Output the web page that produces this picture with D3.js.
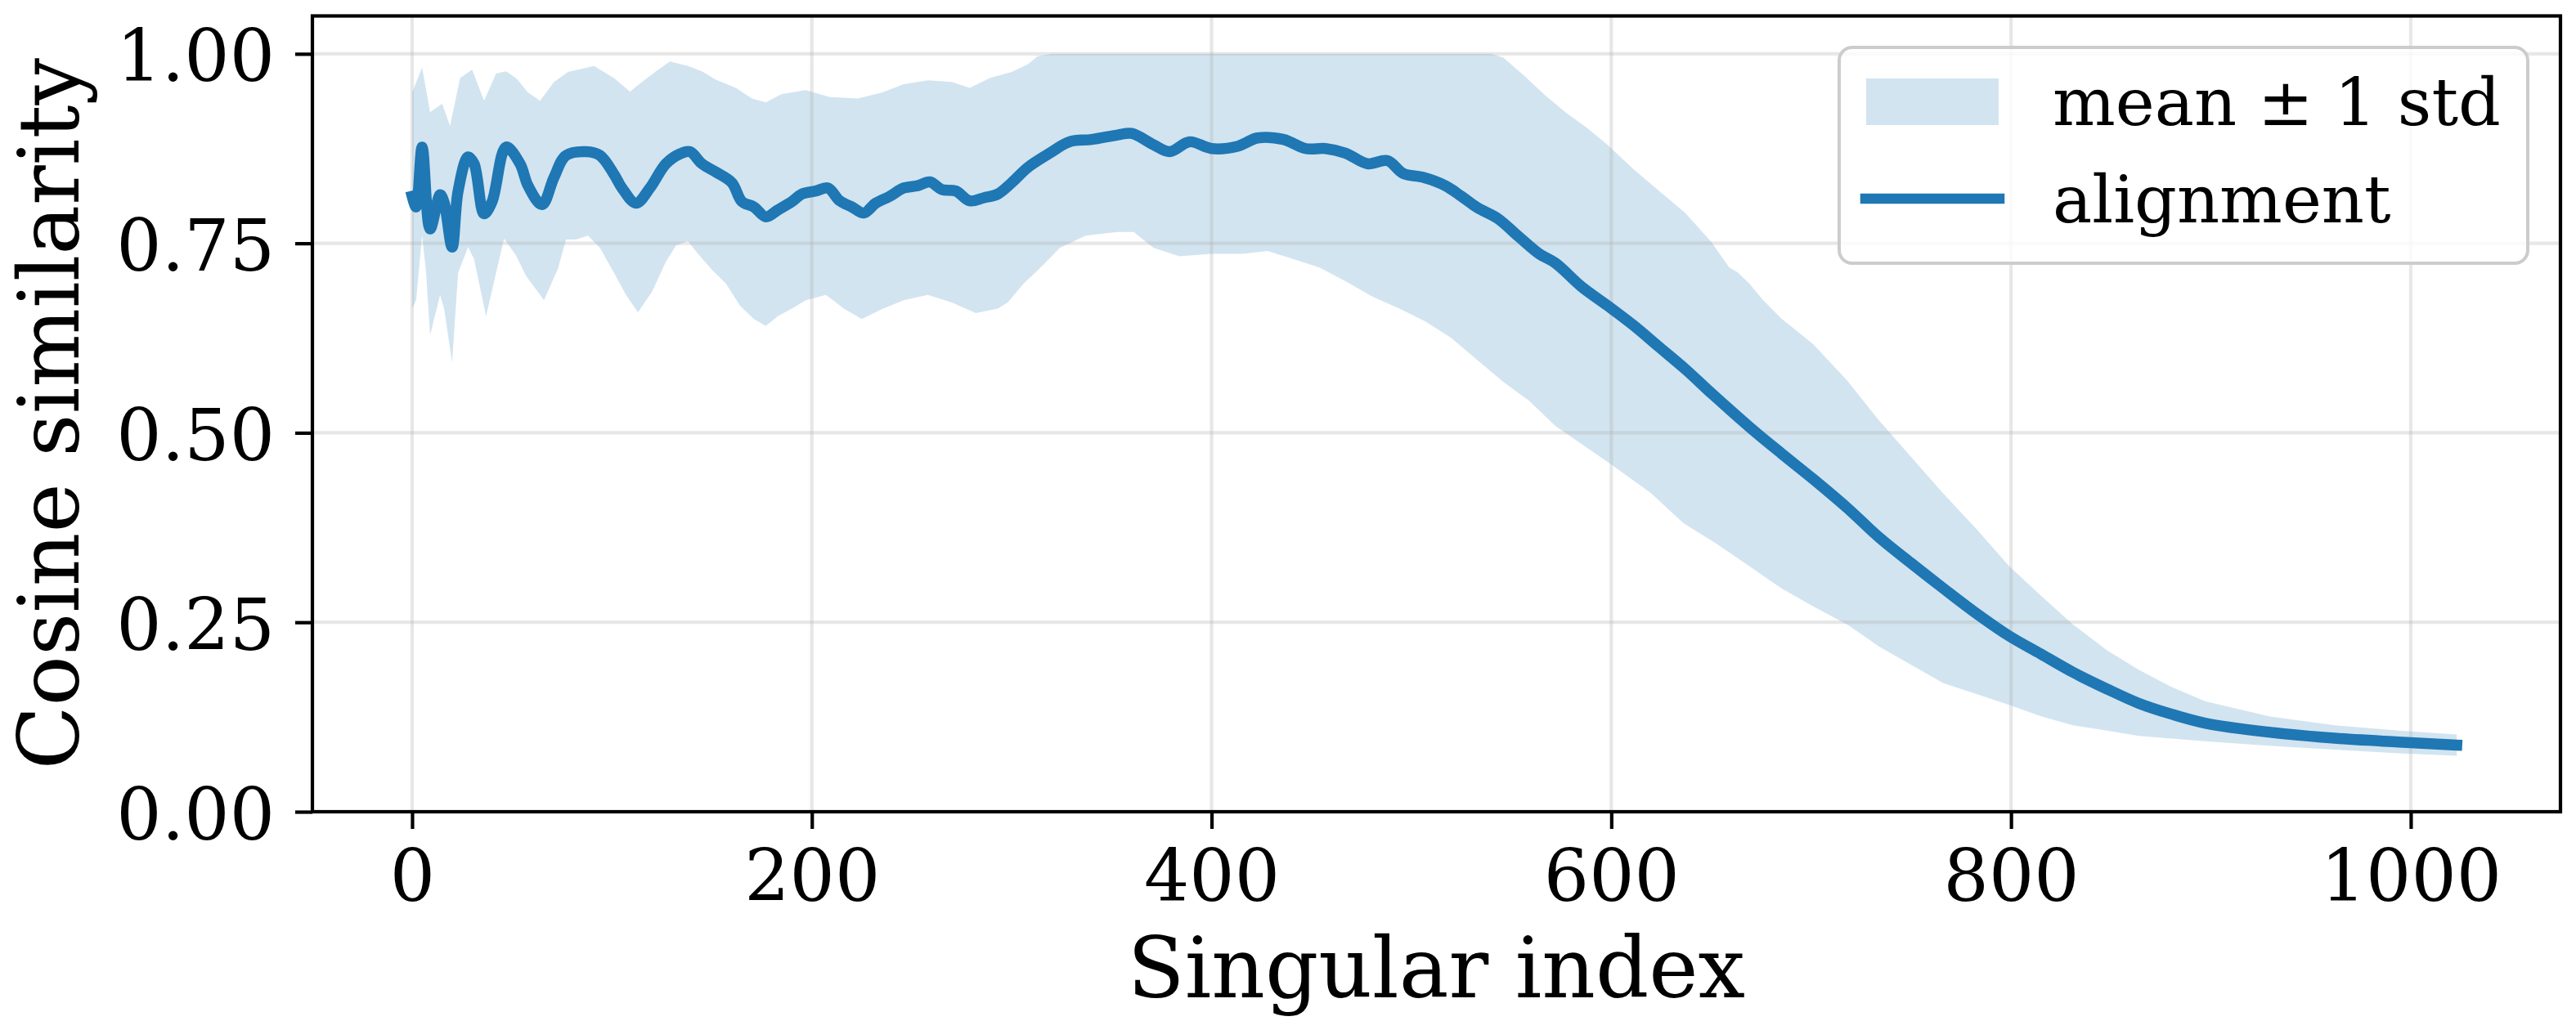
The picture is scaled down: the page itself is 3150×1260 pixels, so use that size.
<!DOCTYPE html>
<html>
<head>
<meta charset="utf-8">
<script src="https://cdn.jsdelivr.net/npm/d3@7"></script>
<style>
  html, body { margin: 0; padding: 0; background: #ffffff; }
  svg { display: block; }
  text { font-family: "DejaVu Serif", serif; fill: #000; }
</style>
</head>
<body>
<svg id="chart" width="3150" height="1260"></svg>
<script>
// ---------------- DATA ----------------
const xTicks = [0, 200, 400, 600, 800, 1000];
const yTicks = [0.00, 0.25, 0.50, 0.75, 1.00];
const xLabel = "Singular index";
const yLabel = "Cosine similarity";
const legendLabels = ["mean \u00b1 1 std", "alignment"];

// mean alignment (solid line)
const meanIdx = [0,2,5,9,14,16,20,23,28,31,36,40,47,54,58,65,71,77,87,94,101,105,112,119,127,134,139,145,152,160,165,171,177,183,190,195,202,208,214,220,226,232,239,246,253,259,265,272,279,286,293,300,308,319,329,340,353,360,371,379,389,400,413,423,436,447,457,467,478,488,496,506,517,525,533,543,554,564,572,585,598,611,624,637,651,669,685,701,718,734,750,766,783,799,815,831,848,864,880,897,929,962,994,1023];
const meanVal = [0.812,0.798,0.877,0.769,0.814,0.804,0.745,0.819,0.864,0.855,0.789,0.805,0.877,0.855,0.826,0.801,0.837,0.866,0.871,0.866,0.841,0.823,0.803,0.823,0.855,0.868,0.871,0.855,0.844,0.830,0.805,0.798,0.785,0.794,0.805,0.815,0.819,0.823,0.806,0.798,0.790,0.803,0.812,0.823,0.826,0.831,0.821,0.819,0.806,0.810,0.815,0.830,0.850,0.869,0.884,0.887,0.893,0.895,0.880,0.871,0.884,0.875,0.878,0.889,0.887,0.875,0.875,0.869,0.855,0.859,0.842,0.837,0.826,0.812,0.797,0.783,0.758,0.736,0.724,0.693,0.668,0.642,0.613,0.584,0.550,0.508,0.473,0.439,0.401,0.362,0.328,0.295,0.261,0.232,0.208,0.184,0.162,0.143,0.129,0.117,0.105,0.097,0.092,0.088];

// upper edge of band (mean + 1 std, clipped at 1)
const upperIdx = [0,5,9,15,19,24,30,36,42,47,52,58,64,71,78,91,101,109,115,122,129,138,145,152,162,170,177,185,197,209,223,235,246,258,270,279,289,300,308,313,320,540,546,556,567,577,588,598,611,624,637,650,659,663,669,676,685,701,718,734,750,766,783,799,815,831,848,864,880,897,929,962,994,1023];
const upperVal = [0.949,0.982,0.923,0.934,0.905,0.968,0.979,0.938,0.974,0.977,0.968,0.949,0.938,0.963,0.976,0.984,0.968,0.950,0.963,0.977,0.990,0.984,0.977,0.966,0.955,0.941,0.936,0.947,0.952,0.943,0.941,0.949,0.960,0.965,0.963,0.955,0.968,0.976,0.986,0.997,1.000,1.000,0.995,0.972,0.945,0.923,0.902,0.880,0.848,0.819,0.790,0.752,0.718,0.712,0.697,0.675,0.651,0.617,0.569,0.516,0.468,0.420,0.372,0.324,0.285,0.247,0.213,0.187,0.165,0.146,0.126,0.114,0.107,0.102];

// lower edge of band (mean - 1 std)
const lowerIdx = [0,2,5,7,9,14,16,20,23,28,31,37,42,46,52,57,66,73,77,82,88,94,101,107,113,120,127,132,138,143,150,157,164,171,177,183,190,197,207,216,225,235,246,258,270,282,293,298,306,316,324,337,353,361,371,384,400,415,428,441,454,467,481,494,507,520,533,546,559,572,600,620,636,653,669,685,701,718,734,750,766,783,799,815,831,848,864,897,929,962,994,1023];
const lowerVal = [0.664,0.675,0.761,0.711,0.629,0.682,0.664,0.593,0.711,0.745,0.729,0.654,0.711,0.756,0.734,0.707,0.675,0.717,0.755,0.755,0.760,0.744,0.711,0.682,0.659,0.686,0.726,0.747,0.753,0.736,0.715,0.697,0.668,0.650,0.641,0.654,0.664,0.675,0.682,0.664,0.650,0.663,0.675,0.682,0.672,0.658,0.664,0.672,0.697,0.722,0.744,0.760,0.765,0.765,0.744,0.733,0.736,0.736,0.740,0.729,0.718,0.700,0.679,0.664,0.647,0.625,0.596,0.567,0.542,0.509,0.458,0.420,0.381,0.353,0.324,0.295,0.271,0.247,0.218,0.194,0.170,0.155,0.141,0.126,0.114,0.107,0.100,0.093,0.087,0.082,0.077,0.074];

// ---------------- LAYOUT ----------------
const svg = d3.select("#chart");
const L = 382, R = 3131, T = 19.5, B = 993;
const blue = "#1f77b4";

const x = d3.scaleLinear().domain([-49.9, 1074.9]).range([L, R]);
const y = d3.scaleLinear().domain([0, 1.05]).range([B, T]);

svg.append("defs").append("clipPath").attr("id", "plotclip")
  .append("rect").attr("x", L).attr("y", T).attr("width", R - L).attr("height", B - T);

const plot = svg.append("g").attr("clip-path", "url(#plotclip)");

// band (drawn first, like a fill_between collection)
const upperPts = upperIdx.map((d, i) => [d, upperVal[i]]);
const lowerPts = lowerIdx.map((d, i) => [d, lowerVal[i]]);
const bandPts = upperPts.concat(lowerPts.slice().reverse());
const lineGen = d3.line().x(d => x(d[0])).y(d => y(d[1]));
plot.append("path")
  .attr("d", lineGen(bandPts) + "Z")
  .attr("fill", blue).attr("fill-opacity", 0.2).attr("stroke", "none");

// grid (above fill, below line)
const grid = plot.append("g");
grid.selectAll("line.gx").data(xTicks).join("line")
  .attr("x1", d => x(d)).attr("x2", d => x(d)).attr("y1", T).attr("y2", B)
  .attr("stroke", "#b0b0b0").attr("stroke-opacity", 0.3).attr("stroke-width", 4.2);
grid.selectAll("line.gy").data(yTicks).join("line")
  .attr("y1", d => y(d)).attr("y2", d => y(d)).attr("x1", L).attr("x2", R)
  .attr("stroke", "#b0b0b0").attr("stroke-opacity", 0.3).attr("stroke-width", 4.2);

// mean line
const meanPts = meanIdx.map((d, i) => [d, meanVal[i]]);
const smoothLine = d3.line().x(d => x(d[0])).y(d => y(d[1])).curve(d3.curveCatmullRom.alpha(0.5));
plot.append("path")
  .attr("d", smoothLine(meanPts))
  .attr("fill", "none").attr("stroke", blue).attr("stroke-width", 13.5)
  .attr("stroke-linejoin", "round").attr("stroke-linecap", "square");

// ---------------- AXES ----------------
const xAxis = svg.append("g").attr("transform", `translate(0,${B})`)
  .call(d3.axisBottom(x).tickValues(xTicks).tickFormat(d3.format("d")).tickSize(21));
xAxis.select(".domain").remove();
xAxis.selectAll(".tick line").attr("stroke", "#000").attr("stroke-width", 4.2);
xAxis.selectAll(".tick text").attr("y", 109).attr("dy", null)
  .style("font-family", "'DejaVu Serif', serif").style("font-size", "87px").attr("fill", "#000");

const yAxis = svg.append("g").attr("transform", `translate(${L},0)`)
  .call(d3.axisLeft(y).tickValues(yTicks).tickFormat(d3.format(".2f")).tickSize(21));
yAxis.select(".domain").remove();
yAxis.selectAll(".tick line").attr("stroke", "#000").attr("stroke-width", 4.2);
yAxis.selectAll(".tick text").attr("x", -46).attr("y", 33).attr("dy", null)
  .attr("text-anchor", "end")
  .style("font-family", "'DejaVu Serif', serif").style("font-size", "87px").attr("fill", "#000");

// spines
svg.append("rect").attr("x", L).attr("y", T).attr("width", R - L).attr("height", B - T)
  .attr("fill", "none").attr("stroke", "#000").attr("stroke-width", 4.2);

// axis labels
svg.append("text").attr("x", (L + R) / 2).attr("y", 1220)
  .attr("text-anchor", "middle").style("font-size", "102px").text(xLabel);
svg.append("text").attr("transform", `translate(96,${(T + B) / 2}) rotate(-90)`)
  .attr("text-anchor", "middle").style("font-size", "102px").text(yLabel);

// ---------------- LEGEND ----------------
const lg = svg.append("g");
lg.append("rect").attr("x", 2249).attr("y", 58).attr("width", 842).attr("height", 264)
  .attr("rx", 16).attr("ry", 16)
  .attr("fill", "#ffffff").attr("fill-opacity", 0.8)
  .attr("stroke", "#cccccc").attr("stroke-width", 4);
lg.append("rect").attr("x", 2282).attr("y", 96).attr("width", 162).attr("height", 57)
  .attr("fill", blue).attr("fill-opacity", 0.2);
lg.append("line").attr("x1", 2281).attr("x2", 2445).attr("y1", 243).attr("y2", 243)
  .attr("stroke", blue).attr("stroke-width", 12.5).attr("stroke-linecap", "square");
lg.append("text").attr("x", 2510).attr("y", 153).style("font-size", "81px").text(legendLabels[0]);
lg.append("text").attr("x", 2510).attr("y", 272).style("font-size", "81px").text(legendLabels[1]);
</script>
</body>
</html>
